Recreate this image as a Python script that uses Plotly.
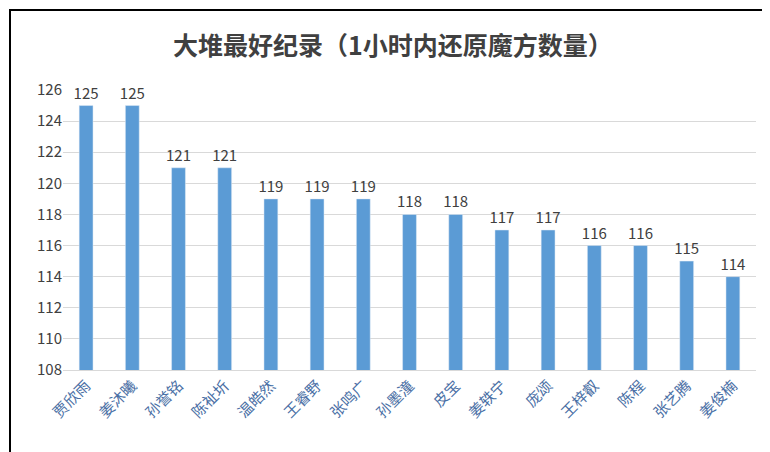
import plotly.graph_objects as go

names = ["贾欣雨","姜沐曦","孙誉铭","陈祉圻","温皓然","王睿野","张鸣广","孙墨潼","皮宝","姜轶宁","庞颂","王梓叡","陈程","张艺腾","姜俊楠"]
values = [125,125,121,121,119,119,119,118,118,117,117,116,116,115,114]
yticks = list(range(108,127,2))

L, R, T, B = 55, 22, 82, 90
W, H = 770, 452
pw, ph = W - L - R, H - T - B
fig = go.Figure(go.Bar(x=names, y=values, marker_color="#5B9BD5", width=0.3,
    text=values, textposition="outside", cliponaxis=False, constraintext="none",
    textfont=dict(size=15, color="#404040")))
fig.update_layout(
    width=W, height=H, paper_bgcolor="white", plot_bgcolor="white",
    margin=dict(l=L, r=R, t=T, b=B, autoexpand=False),
    title=dict(text="<b>大堆最好纪录（1小时内还原魔方数量）</b>", x=0.5, y=0.935, xanchor="center",
               font=dict(size=25, color="#404040", family="Noto Sans CJK SC")),
    font=dict(family="Noto Sans CJK SC", color="#595959"),
    showlegend=False, bargap=0.7, uniformtext=dict(minsize=15, mode="show"),
    shapes=[dict(type="rect", xref="paper", yref="paper",
                 x0=(2 - L) / pw, x1=(W - 2 - L) / pw,
                 y0=-(B - 2) / ph, y1=(ph + T - 2) / ph,
                 line=dict(color="black", width=2))],
)
fig.update_yaxes(range=[108,126], tickvals=yticks, showgrid=True, gridcolor="#D9D9D9",
                 tickfont=dict(size=15, color="#404040"), zeroline=False, automargin=False)
fig.update_xaxes(tickangle=-45, tickfont=dict(size=15, color="#4A6FA5"), automargin=False,
                 showline=True, linecolor="#D9D9D9")
fig.write_html("out.html")
